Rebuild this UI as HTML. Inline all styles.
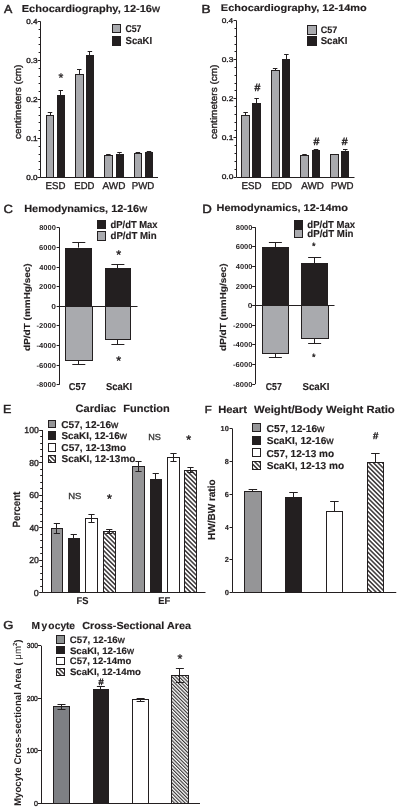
<!DOCTYPE html>
<html><head><meta charset="utf-8"><style>
html,body{margin:0;padding:0;background:#fff;width:400px;height:810px;overflow:hidden}
svg{display:block;font-family:"Liberation Sans", sans-serif;text-rendering:geometricPrecision;will-change:transform}
</style></head><body>
<svg width="400" height="810" viewBox="0 0 400 810">
<defs>
<pattern id="h4" patternUnits="userSpaceOnUse" width="3.2" height="4" patternTransform="rotate(-45)"><rect width="3.2" height="4" fill="#fff"/><line x1="0.8" y1="0" x2="0.8" y2="4" stroke="#231f20" stroke-width="1.35"/></pattern>
<pattern id="h3" patternUnits="userSpaceOnUse" width="2.5" height="3" patternTransform="rotate(-45)"><rect width="2.5" height="3" fill="#fff"/><line x1="0.6" y1="0" x2="0.6" y2="3" stroke="#231f20" stroke-width="1.05"/></pattern>
</defs>
<rect x="0" y="0" width="400" height="810" fill="#fff"/>
<text x="3.98" y="12.5" font-size="11.63" font-weight="normal" fill="#231f20" stroke="#231f20" stroke-width="0.45" textLength="8.3" lengthAdjust="spacingAndGlyphs">A</text>
<text x="21.76" y="12.25" font-size="10.17" font-weight="bold" fill="#231f20" stroke="#231f20" stroke-width="0.15" textLength="138.21" lengthAdjust="spacingAndGlyphs">Echocardiography, 12-16<tspan font-weight="normal" stroke-width="0.3">w</tspan></text>
<line x1="40.5" y1="21.5" x2="40.5" y2="177.5" stroke="#231f20" stroke-width="1"/>
<line x1="37.6" y1="177.5" x2="40.6" y2="177.5" stroke="#231f20" stroke-width="1"/>
<line x1="37.6" y1="138.5" x2="40.6" y2="138.5" stroke="#231f20" stroke-width="1"/>
<line x1="37.6" y1="99.5" x2="40.6" y2="99.5" stroke="#231f20" stroke-width="1"/>
<line x1="37.6" y1="60.5" x2="40.6" y2="60.5" stroke="#231f20" stroke-width="1"/>
<line x1="37.6" y1="21.5" x2="40.6" y2="21.5" stroke="#231f20" stroke-width="1"/>
<line x1="38.6" y1="169.5" x2="40.6" y2="169.5" stroke="#231f20" stroke-width="1"/>
<line x1="38.6" y1="161.5" x2="40.6" y2="161.5" stroke="#231f20" stroke-width="1"/>
<line x1="38.6" y1="154.5" x2="40.6" y2="154.5" stroke="#231f20" stroke-width="1"/>
<line x1="38.6" y1="146.5" x2="40.6" y2="146.5" stroke="#231f20" stroke-width="1"/>
<line x1="38.6" y1="130.5" x2="40.6" y2="130.5" stroke="#231f20" stroke-width="1"/>
<line x1="38.6" y1="122.5" x2="40.6" y2="122.5" stroke="#231f20" stroke-width="1"/>
<line x1="38.6" y1="115.5" x2="40.6" y2="115.5" stroke="#231f20" stroke-width="1"/>
<line x1="38.6" y1="107.5" x2="40.6" y2="107.5" stroke="#231f20" stroke-width="1"/>
<line x1="38.6" y1="91.5" x2="40.6" y2="91.5" stroke="#231f20" stroke-width="1"/>
<line x1="38.6" y1="83.5" x2="40.6" y2="83.5" stroke="#231f20" stroke-width="1"/>
<line x1="38.6" y1="76.5" x2="40.6" y2="76.5" stroke="#231f20" stroke-width="1"/>
<line x1="38.6" y1="68.5" x2="40.6" y2="68.5" stroke="#231f20" stroke-width="1"/>
<line x1="38.6" y1="52.5" x2="40.6" y2="52.5" stroke="#231f20" stroke-width="1"/>
<line x1="38.6" y1="44.5" x2="40.6" y2="44.5" stroke="#231f20" stroke-width="1"/>
<line x1="38.6" y1="37.5" x2="40.6" y2="37.5" stroke="#231f20" stroke-width="1"/>
<line x1="38.6" y1="29.5" x2="40.6" y2="29.5" stroke="#231f20" stroke-width="1"/>
<text x="26.18" y="180.0" font-size="7.27" font-weight="normal" fill="#231f20" stroke="#231f20" stroke-width="0.35" textLength="11.34" lengthAdjust="spacingAndGlyphs">0.0</text>
<text x="26.18" y="141.0" font-size="7.27" font-weight="normal" fill="#231f20" stroke="#231f20" stroke-width="0.35" textLength="11.42" lengthAdjust="spacingAndGlyphs">0.1</text>
<text x="26.18" y="102.0" font-size="7.27" font-weight="normal" fill="#231f20" stroke="#231f20" stroke-width="0.35" textLength="11.43" lengthAdjust="spacingAndGlyphs">0.2</text>
<text x="26.18" y="63.0" font-size="7.27" font-weight="normal" fill="#231f20" stroke="#231f20" stroke-width="0.35" textLength="11.38" lengthAdjust="spacingAndGlyphs">0.3</text>
<text x="26.18" y="24.0" font-size="7.27" font-weight="normal" fill="#231f20" stroke="#231f20" stroke-width="0.35" textLength="11.25" lengthAdjust="spacingAndGlyphs">0.4</text>
<line x1="40.6" y1="177.5" x2="158" y2="177.5" stroke="#231f20" stroke-width="1"/>
<line x1="50.5" y1="115.1" x2="50.5" y2="112.3" stroke="#231f20" stroke-width="1"/>
<line x1="47.75" y1="112.5" x2="52.25" y2="112.5" stroke="#231f20" stroke-width="1"/>
<rect x="46.5" y="115.5" width="7.0" height="62.0" fill="#a9aaae" stroke="#231f20" stroke-width="1"/>
<line x1="60.5" y1="95.4" x2="60.5" y2="90.3" stroke="#231f20" stroke-width="1"/>
<line x1="58.5" y1="90.5" x2="63.0" y2="90.5" stroke="#231f20" stroke-width="1"/>
<rect x="57.0" y="95.0" width="8.0" height="83.0" fill="#231f20"/>
<line x1="79.5" y1="74" x2="79.5" y2="69.2" stroke="#231f20" stroke-width="1"/>
<line x1="77.0" y1="69.5" x2="81.5" y2="69.5" stroke="#231f20" stroke-width="1"/>
<rect x="75.5" y="74.5" width="8.0" height="103.0" fill="#a9aaae" stroke="#231f20" stroke-width="1"/>
<line x1="89.5" y1="55.3" x2="89.5" y2="51.2" stroke="#231f20" stroke-width="1"/>
<line x1="87.625" y1="51.5" x2="92.125" y2="51.5" stroke="#231f20" stroke-width="1"/>
<rect x="86.0" y="55.0" width="8.0" height="123.0" fill="#231f20"/>
<line x1="108.5" y1="155" x2="108.5" y2="154.0" stroke="#231f20" stroke-width="1"/>
<line x1="106.125" y1="154.5" x2="110.625" y2="154.5" stroke="#231f20" stroke-width="1"/>
<rect x="104.5" y="155.5" width="8.0" height="22.0" fill="#a9aaae" stroke="#231f20" stroke-width="1"/>
<line x1="119.5" y1="153.75" x2="119.5" y2="152" stroke="#231f20" stroke-width="1"/>
<line x1="117.25" y1="152.5" x2="121.75" y2="152.5" stroke="#231f20" stroke-width="1"/>
<rect x="116.0" y="154.0" width="8.0" height="24.0" fill="#231f20"/>
<line x1="137.5" y1="153.5" x2="137.5" y2="152.6" stroke="#231f20" stroke-width="1"/>
<line x1="135.625" y1="152.5" x2="140.125" y2="152.5" stroke="#231f20" stroke-width="1"/>
<rect x="134.5" y="153.5" width="7.0" height="24.0" fill="#a9aaae" stroke="#231f20" stroke-width="1"/>
<line x1="149.5" y1="152.5" x2="149.5" y2="151" stroke="#231f20" stroke-width="1"/>
<line x1="146.75" y1="151.5" x2="151.25" y2="151.5" stroke="#231f20" stroke-width="1"/>
<rect x="145.0" y="152.0" width="8.0" height="26.0" fill="#231f20"/>
<text x="58.57" y="82.41" font-size="12.5" font-weight="normal" fill="#231f20" stroke="#231f20" stroke-width="0.3">*</text>
<rect x="112.5" y="24.5" width="8.0" height="8.0" fill="#a9aaae" stroke="#231f20" stroke-width="1"/>
<rect x="112.0" y="36.0" width="9.0" height="10.0" fill="#231f20"/>
<text x="125.44" y="32.4" font-size="9.88" font-weight="bold" fill="#231f20" stroke="#231f20" stroke-width="0.15" textLength="15.94" lengthAdjust="spacingAndGlyphs">C57</text>
<text x="125.52" y="44.4" font-size="10.17" font-weight="bold" fill="#231f20" stroke="#231f20" stroke-width="0.15" textLength="26.62" lengthAdjust="spacingAndGlyphs">ScaKI</text>
<text x="45.51" y="188.95" font-size="9.88" font-weight="normal" fill="#231f20" stroke="#231f20" stroke-width="0.35" textLength="19.86" lengthAdjust="spacingAndGlyphs">ESD</text>
<text x="74.32" y="188.95" font-size="9.88" font-weight="normal" fill="#231f20" stroke="#231f20" stroke-width="0.35" textLength="20.04" lengthAdjust="spacingAndGlyphs">EDD</text>
<text x="102.48" y="188.95" font-size="9.88" font-weight="normal" fill="#231f20" stroke="#231f20" stroke-width="0.35" textLength="22.9" lengthAdjust="spacingAndGlyphs">AWD</text>
<text x="131.81" y="188.95" font-size="9.88" font-weight="normal" fill="#231f20" stroke="#231f20" stroke-width="0.35" textLength="22.56" lengthAdjust="spacingAndGlyphs">PWD</text>
<text transform="translate(21,138.6) rotate(-90)" x="-0.42" y="0" font-size="9.45" font-weight="normal" fill="#231f20" stroke="#231f20" stroke-width="0.35" textLength="74.44" lengthAdjust="spacingAndGlyphs">centimeters (cm)</text>
<text x="201.63" y="12.5" font-size="11.63" font-weight="normal" fill="#231f20" stroke="#231f20" stroke-width="0.45" textLength="9.09" lengthAdjust="spacingAndGlyphs">B</text>
<text x="220.87" y="11" font-size="9.59" font-weight="bold" fill="#231f20" stroke="#231f20" stroke-width="0.15" textLength="145.96" lengthAdjust="spacingAndGlyphs">Echocardiography, 12-14mo</text>
<line x1="236.5" y1="20.599999999999994" x2="236.5" y2="177" stroke="#231f20" stroke-width="1"/>
<line x1="233.5" y1="177.5" x2="236.5" y2="177.5" stroke="#231f20" stroke-width="1"/>
<line x1="233.5" y1="137.5" x2="236.5" y2="137.5" stroke="#231f20" stroke-width="1"/>
<line x1="233.5" y1="98.5" x2="236.5" y2="98.5" stroke="#231f20" stroke-width="1"/>
<line x1="233.5" y1="59.5" x2="236.5" y2="59.5" stroke="#231f20" stroke-width="1"/>
<line x1="233.5" y1="20.5" x2="236.5" y2="20.5" stroke="#231f20" stroke-width="1"/>
<line x1="234.5" y1="169.5" x2="236.5" y2="169.5" stroke="#231f20" stroke-width="1"/>
<line x1="234.5" y1="161.5" x2="236.5" y2="161.5" stroke="#231f20" stroke-width="1"/>
<line x1="234.5" y1="153.5" x2="236.5" y2="153.5" stroke="#231f20" stroke-width="1"/>
<line x1="234.5" y1="145.5" x2="236.5" y2="145.5" stroke="#231f20" stroke-width="1"/>
<line x1="234.5" y1="130.5" x2="236.5" y2="130.5" stroke="#231f20" stroke-width="1"/>
<line x1="234.5" y1="122.5" x2="236.5" y2="122.5" stroke="#231f20" stroke-width="1"/>
<line x1="234.5" y1="114.5" x2="236.5" y2="114.5" stroke="#231f20" stroke-width="1"/>
<line x1="234.5" y1="106.5" x2="236.5" y2="106.5" stroke="#231f20" stroke-width="1"/>
<line x1="234.5" y1="90.5" x2="236.5" y2="90.5" stroke="#231f20" stroke-width="1"/>
<line x1="234.5" y1="83.5" x2="236.5" y2="83.5" stroke="#231f20" stroke-width="1"/>
<line x1="234.5" y1="75.5" x2="236.5" y2="75.5" stroke="#231f20" stroke-width="1"/>
<line x1="234.5" y1="67.5" x2="236.5" y2="67.5" stroke="#231f20" stroke-width="1"/>
<line x1="234.5" y1="51.5" x2="236.5" y2="51.5" stroke="#231f20" stroke-width="1"/>
<line x1="234.5" y1="44.5" x2="236.5" y2="44.5" stroke="#231f20" stroke-width="1"/>
<line x1="234.5" y1="36.5" x2="236.5" y2="36.5" stroke="#231f20" stroke-width="1"/>
<line x1="234.5" y1="28.5" x2="236.5" y2="28.5" stroke="#231f20" stroke-width="1"/>
<text x="221.67" y="179.4" font-size="6.98" font-weight="normal" fill="#231f20" stroke="#231f20" stroke-width="0.35" textLength="11.66" lengthAdjust="spacingAndGlyphs">0.0</text>
<text x="221.67" y="140.3" font-size="6.98" font-weight="normal" fill="#231f20" stroke="#231f20" stroke-width="0.35" textLength="11.74" lengthAdjust="spacingAndGlyphs">0.1</text>
<text x="221.67" y="101.2" font-size="6.98" font-weight="normal" fill="#231f20" stroke="#231f20" stroke-width="0.35" textLength="11.75" lengthAdjust="spacingAndGlyphs">0.2</text>
<text x="221.67" y="62.1" font-size="6.98" font-weight="normal" fill="#231f20" stroke="#231f20" stroke-width="0.35" textLength="11.7" lengthAdjust="spacingAndGlyphs">0.3</text>
<text x="221.68" y="23.0" font-size="6.98" font-weight="normal" fill="#231f20" stroke="#231f20" stroke-width="0.35" textLength="11.57" lengthAdjust="spacingAndGlyphs">0.4</text>
<line x1="236.5" y1="177.5" x2="354.5" y2="177.5" stroke="#231f20" stroke-width="1"/>
<line x1="245.5" y1="115.5" x2="245.5" y2="112.3" stroke="#231f20" stroke-width="1"/>
<line x1="243.375" y1="112.5" x2="247.875" y2="112.5" stroke="#231f20" stroke-width="1"/>
<rect x="241.5" y="115.5" width="8.0" height="62.0" fill="#a9aaae" stroke="#231f20" stroke-width="1"/>
<line x1="256.5" y1="103" x2="256.5" y2="98.75" stroke="#231f20" stroke-width="1"/>
<line x1="254.375" y1="98.5" x2="258.875" y2="98.5" stroke="#231f20" stroke-width="1"/>
<rect x="252.0" y="103.0" width="9.0" height="74.0" fill="#231f20"/>
<line x1="275.5" y1="70" x2="275.5" y2="68.25" stroke="#231f20" stroke-width="1"/>
<line x1="272.875" y1="68.5" x2="277.375" y2="68.5" stroke="#231f20" stroke-width="1"/>
<rect x="271.5" y="70.5" width="8.0" height="107.0" fill="#a9aaae" stroke="#231f20" stroke-width="1"/>
<line x1="286.5" y1="59" x2="286.5" y2="54.25" stroke="#231f20" stroke-width="1"/>
<line x1="284.125" y1="54.5" x2="288.625" y2="54.5" stroke="#231f20" stroke-width="1"/>
<rect x="282.0" y="59.0" width="8.0" height="118.0" fill="#231f20"/>
<line x1="304.5" y1="155" x2="304.5" y2="154.2" stroke="#231f20" stroke-width="1"/>
<line x1="302.25" y1="154.5" x2="306.75" y2="154.5" stroke="#231f20" stroke-width="1"/>
<rect x="300.5" y="155.5" width="8.0" height="22.0" fill="#a9aaae" stroke="#231f20" stroke-width="1"/>
<line x1="316.5" y1="150.5" x2="316.5" y2="149.6" stroke="#231f20" stroke-width="1"/>
<line x1="313.75" y1="149.5" x2="318.25" y2="149.5" stroke="#231f20" stroke-width="1"/>
<rect x="312.0" y="150.0" width="8.0" height="27.0" fill="#231f20"/>
<line x1="334.5" y1="154.75" x2="334.5" y2="154" stroke="#231f20" stroke-width="1"/>
<line x1="331.75" y1="154.5" x2="336.25" y2="154.5" stroke="#231f20" stroke-width="1"/>
<rect x="330.5" y="154.5" width="8.0" height="23.0" fill="#a9aaae" stroke="#231f20" stroke-width="1"/>
<line x1="345.5" y1="150.75" x2="345.5" y2="149.6" stroke="#231f20" stroke-width="1"/>
<line x1="343.0" y1="149.5" x2="347.5" y2="149.5" stroke="#231f20" stroke-width="1"/>
<rect x="341.0" y="151.0" width="8.0" height="26.0" fill="#231f20"/>
<text x="254.49" y="91.49" font-size="10.5" font-weight="normal" fill="#231f20" stroke="#231f20" stroke-width="0.45">#</text>
<text x="313.59" y="145.09" font-size="10.5" font-weight="normal" fill="#231f20" stroke="#231f20" stroke-width="0.45">#</text>
<text x="341.84" y="145.09" font-size="10.5" font-weight="normal" fill="#231f20" stroke="#231f20" stroke-width="0.45">#</text>
<rect x="307.5" y="25.5" width="9.0" height="9.0" fill="#a9aaae" stroke="#231f20" stroke-width="1"/>
<rect x="307.0" y="36.0" width="10.0" height="10.0" fill="#231f20"/>
<text x="320.63" y="33.4" font-size="9.45" font-weight="bold" fill="#231f20" stroke="#231f20" stroke-width="0.15" textLength="16.57" lengthAdjust="spacingAndGlyphs">C57</text>
<text x="320.72" y="44.1" font-size="10.03" font-weight="bold" fill="#231f20" stroke="#231f20" stroke-width="0.15" textLength="26.62" lengthAdjust="spacingAndGlyphs">ScaKI</text>
<text x="241.5" y="188.95" font-size="9.88" font-weight="normal" fill="#231f20" stroke="#231f20" stroke-width="0.35" textLength="20.07" lengthAdjust="spacingAndGlyphs">ESD</text>
<text x="271.51" y="188.95" font-size="9.88" font-weight="normal" fill="#231f20" stroke="#231f20" stroke-width="0.35" textLength="20.36" lengthAdjust="spacingAndGlyphs">EDD</text>
<text x="301.28" y="188.95" font-size="9.88" font-weight="normal" fill="#231f20" stroke="#231f20" stroke-width="0.35" textLength="22.69" lengthAdjust="spacingAndGlyphs">AWD</text>
<text x="331.01" y="188.95" font-size="9.88" font-weight="normal" fill="#231f20" stroke="#231f20" stroke-width="0.35" textLength="22.56" lengthAdjust="spacingAndGlyphs">PWD</text>
<text transform="translate(216.6,138.6) rotate(-90)" x="-0.42" y="0" font-size="9.45" font-weight="normal" fill="#231f20" stroke="#231f20" stroke-width="0.35" textLength="74.44" lengthAdjust="spacingAndGlyphs">centimeters (cm)</text>
<text x="3.43" y="213.4" font-size="11.92" font-weight="normal" fill="#231f20" stroke="#231f20" stroke-width="0.45" textLength="9.47" lengthAdjust="spacingAndGlyphs">C</text>
<text x="24.17" y="212.25" font-size="10.32" font-weight="bold" fill="#231f20" stroke="#231f20" stroke-width="0.15" textLength="122.91" lengthAdjust="spacingAndGlyphs">Hemodynamics, 12-16<tspan font-weight="normal" stroke-width="0.3">w</tspan></text>
<line x1="59.5" y1="227.79999999999998" x2="59.5" y2="384.6" stroke="#231f20" stroke-width="1"/>
<line x1="56.6" y1="384.5" x2="59.6" y2="384.5" stroke="#231f20" stroke-width="1"/>
<line x1="56.6" y1="365.5" x2="59.6" y2="365.5" stroke="#231f20" stroke-width="1"/>
<line x1="56.6" y1="345.5" x2="59.6" y2="345.5" stroke="#231f20" stroke-width="1"/>
<line x1="56.6" y1="325.5" x2="59.6" y2="325.5" stroke="#231f20" stroke-width="1"/>
<line x1="56.6" y1="306.5" x2="59.6" y2="306.5" stroke="#231f20" stroke-width="1"/>
<line x1="56.6" y1="286.5" x2="59.6" y2="286.5" stroke="#231f20" stroke-width="1"/>
<line x1="56.6" y1="267.5" x2="59.6" y2="267.5" stroke="#231f20" stroke-width="1"/>
<line x1="56.6" y1="247.5" x2="59.6" y2="247.5" stroke="#231f20" stroke-width="1"/>
<line x1="56.6" y1="227.5" x2="59.6" y2="227.5" stroke="#231f20" stroke-width="1"/>
<text x="36.5" y="387.1" font-size="7.12" font-weight="bold" fill="#231f20" textLength="19.41" lengthAdjust="spacingAndGlyphs">-8000</text>
<text x="36.5" y="367.5" font-size="7.12" font-weight="bold" fill="#231f20" textLength="19.41" lengthAdjust="spacingAndGlyphs">-6000</text>
<text x="36.5" y="347.9" font-size="7.12" font-weight="bold" fill="#231f20" textLength="19.41" lengthAdjust="spacingAndGlyphs">-4000</text>
<text x="36.5" y="328.3" font-size="7.12" font-weight="bold" fill="#231f20" textLength="19.41" lengthAdjust="spacingAndGlyphs">-2000</text>
<text x="51.21" y="308.7" font-size="7.12" font-weight="bold" fill="#231f20" textLength="4.74" lengthAdjust="spacingAndGlyphs">0</text>
<text x="39.14" y="289.1" font-size="7.12" font-weight="bold" fill="#231f20" textLength="16.78" lengthAdjust="spacingAndGlyphs">2000</text>
<text x="39.29" y="269.5" font-size="7.12" font-weight="bold" fill="#231f20" textLength="16.62" lengthAdjust="spacingAndGlyphs">4000</text>
<text x="39.12" y="249.9" font-size="7.12" font-weight="bold" fill="#231f20" textLength="16.79" lengthAdjust="spacingAndGlyphs">6000</text>
<text x="39.16" y="230.3" font-size="7.12" font-weight="bold" fill="#231f20" textLength="16.75" lengthAdjust="spacingAndGlyphs">8000</text>
<line x1="78.5" y1="247.6" x2="78.5" y2="242.5" stroke="#231f20" stroke-width="1"/>
<line x1="72.30000000000001" y1="242.5" x2="85.30000000000001" y2="242.5" stroke="#231f20" stroke-width="1"/>
<line x1="78.5" y1="360" x2="78.5" y2="364.4" stroke="#231f20" stroke-width="1"/>
<line x1="72.30000000000001" y1="364.5" x2="85.30000000000001" y2="364.5" stroke="#231f20" stroke-width="1"/>
<rect x="65.0" y="248.0" width="27.0" height="58.0" fill="#231f20"/>
<rect x="65.5" y="306.5" width="27.0" height="54.0" fill="#a9aaae" stroke="#231f20" stroke-width="1"/>
<line x1="117.5" y1="268.25" x2="117.5" y2="264.25" stroke="#231f20" stroke-width="1"/>
<line x1="111.375" y1="264.5" x2="124.375" y2="264.5" stroke="#231f20" stroke-width="1"/>
<line x1="117.5" y1="339.25" x2="117.5" y2="344.5" stroke="#231f20" stroke-width="1"/>
<line x1="111.375" y1="344.5" x2="124.375" y2="344.5" stroke="#231f20" stroke-width="1"/>
<rect x="105.0" y="268.0" width="26.0" height="38.0" fill="#231f20"/>
<rect x="105.5" y="306.5" width="25.0" height="33.0" fill="#a9aaae" stroke="#231f20" stroke-width="1"/>
<line x1="59.6" y1="306.5" x2="137.5" y2="306.5" stroke="#231f20" stroke-width="1"/>
<text x="116.32" y="259.21" font-size="12.5" font-weight="normal" fill="#231f20" stroke="#231f20" stroke-width="0.4">*</text>
<text x="116.32" y="364.71" font-size="12.5" font-weight="normal" fill="#231f20" stroke="#231f20" stroke-width="0.4">*</text>
<rect x="97.0" y="220.0" width="9.0" height="9.0" fill="#231f20"/>
<rect x="97.5" y="231.5" width="8.0" height="9.0" fill="#a9aaae" stroke="#231f20" stroke-width="1"/>
<text x="110.51" y="228" font-size="10.17" font-weight="bold" fill="#231f20" stroke="#231f20" stroke-width="0.15" textLength="47.07" lengthAdjust="spacingAndGlyphs">dP/dT Max</text>
<text x="110.5" y="238.5" font-size="10.17" font-weight="bold" fill="#231f20" stroke="#231f20" stroke-width="0.15" textLength="46.19" lengthAdjust="spacingAndGlyphs">dP/dT Min</text>
<text x="68.82" y="389.5" font-size="10.03" font-weight="bold" fill="#231f20" stroke="#231f20" stroke-width="0.15" textLength="16.99" lengthAdjust="spacingAndGlyphs">C57</text>
<text x="105.93" y="389.5" font-size="10.03" font-weight="bold" fill="#231f20" stroke="#231f20" stroke-width="0.15" textLength="26.1" lengthAdjust="spacingAndGlyphs">ScaKI</text>
<text transform="translate(30.2,350.5) rotate(-90)" x="-0.41" y="0" font-size="8.72" font-weight="bold" fill="#231f20" stroke="#231f20" stroke-width="0.15" textLength="87.61" lengthAdjust="spacingAndGlyphs">dP/dT (mmHg/sec)</text>
<text x="202.31" y="213" font-size="11.92" font-weight="normal" fill="#231f20" stroke="#231f20" stroke-width="0.45" textLength="9.58" lengthAdjust="spacingAndGlyphs">D</text>
<text x="216.57" y="211.2" font-size="9.88" font-weight="bold" fill="#231f20" stroke="#231f20" stroke-width="0.15" textLength="131.46" lengthAdjust="spacingAndGlyphs">Hemodynamics, 12-14mo</text>
<line x1="255.5" y1="227.20000000000002" x2="255.5" y2="384.0" stroke="#231f20" stroke-width="1"/>
<line x1="252.2" y1="384.5" x2="255.2" y2="384.5" stroke="#231f20" stroke-width="1"/>
<line x1="252.2" y1="364.5" x2="255.2" y2="364.5" stroke="#231f20" stroke-width="1"/>
<line x1="252.2" y1="344.5" x2="255.2" y2="344.5" stroke="#231f20" stroke-width="1"/>
<line x1="252.2" y1="325.5" x2="255.2" y2="325.5" stroke="#231f20" stroke-width="1"/>
<line x1="252.2" y1="305.5" x2="255.2" y2="305.5" stroke="#231f20" stroke-width="1"/>
<line x1="252.2" y1="286.5" x2="255.2" y2="286.5" stroke="#231f20" stroke-width="1"/>
<line x1="252.2" y1="266.5" x2="255.2" y2="266.5" stroke="#231f20" stroke-width="1"/>
<line x1="252.2" y1="246.5" x2="255.2" y2="246.5" stroke="#231f20" stroke-width="1"/>
<line x1="252.2" y1="227.5" x2="255.2" y2="227.5" stroke="#231f20" stroke-width="1"/>
<text x="233.1" y="386.5" font-size="7.12" font-weight="bold" fill="#231f20" textLength="19.41" lengthAdjust="spacingAndGlyphs">-8000</text>
<text x="233.1" y="366.9" font-size="7.12" font-weight="bold" fill="#231f20" textLength="19.41" lengthAdjust="spacingAndGlyphs">-6000</text>
<text x="233.1" y="347.3" font-size="7.12" font-weight="bold" fill="#231f20" textLength="19.41" lengthAdjust="spacingAndGlyphs">-4000</text>
<text x="233.1" y="327.7" font-size="7.12" font-weight="bold" fill="#231f20" textLength="19.41" lengthAdjust="spacingAndGlyphs">-2000</text>
<text x="247.81" y="308.1" font-size="7.12" font-weight="bold" fill="#231f20" textLength="4.74" lengthAdjust="spacingAndGlyphs">0</text>
<text x="235.74" y="288.5" font-size="7.12" font-weight="bold" fill="#231f20" textLength="16.78" lengthAdjust="spacingAndGlyphs">2000</text>
<text x="235.89" y="268.9" font-size="7.12" font-weight="bold" fill="#231f20" textLength="16.62" lengthAdjust="spacingAndGlyphs">4000</text>
<text x="235.72" y="249.3" font-size="7.12" font-weight="bold" fill="#231f20" textLength="16.79" lengthAdjust="spacingAndGlyphs">6000</text>
<text x="235.76" y="229.7" font-size="7.12" font-weight="bold" fill="#231f20" textLength="16.75" lengthAdjust="spacingAndGlyphs">8000</text>
<line x1="275.5" y1="247" x2="275.5" y2="242.5" stroke="#231f20" stroke-width="1"/>
<line x1="268.875" y1="242.5" x2="281.875" y2="242.5" stroke="#231f20" stroke-width="1"/>
<line x1="275.5" y1="353.25" x2="275.5" y2="357" stroke="#231f20" stroke-width="1"/>
<line x1="268.875" y1="357.5" x2="281.875" y2="357.5" stroke="#231f20" stroke-width="1"/>
<rect x="262.0" y="247.0" width="27.0" height="59.0" fill="#231f20"/>
<rect x="262.5" y="305.5" width="26.0" height="48.0" fill="#a9aaae" stroke="#231f20" stroke-width="1"/>
<line x1="314.5" y1="263" x2="314.5" y2="257" stroke="#231f20" stroke-width="1"/>
<line x1="308.125" y1="257.5" x2="321.125" y2="257.5" stroke="#231f20" stroke-width="1"/>
<line x1="314.5" y1="338" x2="314.5" y2="343" stroke="#231f20" stroke-width="1"/>
<line x1="308.125" y1="343.5" x2="321.125" y2="343.5" stroke="#231f20" stroke-width="1"/>
<rect x="301.0" y="263.0" width="27.0" height="43.0" fill="#231f20"/>
<rect x="301.5" y="305.5" width="27.0" height="33.0" fill="#a9aaae" stroke="#231f20" stroke-width="1"/>
<line x1="255.2" y1="305.5" x2="334.5" y2="305.5" stroke="#231f20" stroke-width="1"/>
<text x="312.0" y="249.01" font-size="9" font-weight="normal" fill="#231f20" stroke="#231f20" stroke-width="0.4">*</text>
<text x="312.0" y="360.41" font-size="9" font-weight="normal" fill="#231f20" stroke="#231f20" stroke-width="0.4">*</text>
<rect x="294.0" y="220.0" width="9.0" height="10.0" fill="#231f20"/>
<rect x="294.5" y="229.5" width="8.0" height="8.0" fill="#a9aaae" stroke="#231f20" stroke-width="1"/>
<text x="307.31" y="228.2" font-size="10.17" font-weight="bold" fill="#231f20" stroke="#231f20" stroke-width="0.15" textLength="47.77" lengthAdjust="spacingAndGlyphs">dP/dT Max</text>
<text x="307.3" y="237.3" font-size="10.17" font-weight="bold" fill="#231f20" stroke="#231f20" stroke-width="0.15" textLength="46.19" lengthAdjust="spacingAndGlyphs">dP/dT Min</text>
<text x="265.84" y="389.5" font-size="10.03" font-weight="bold" fill="#231f20" stroke="#231f20" stroke-width="0.15" textLength="15.94" lengthAdjust="spacingAndGlyphs">C57</text>
<text x="302.52" y="389.5" font-size="10.03" font-weight="bold" fill="#231f20" stroke="#231f20" stroke-width="0.15" textLength="26.93" lengthAdjust="spacingAndGlyphs">ScaKI</text>
<text transform="translate(226,350.5) rotate(-90)" x="-0.41" y="0" font-size="8.72" font-weight="bold" fill="#231f20" stroke="#231f20" stroke-width="0.15" textLength="87.61" lengthAdjust="spacingAndGlyphs">dP/dT (mmHg/sec)</text>
<text x="3.07" y="412.6" font-size="11.63" font-weight="normal" fill="#231f20" stroke="#231f20" stroke-width="0.45" textLength="8.37" lengthAdjust="spacingAndGlyphs">E</text>
<text x="75.55" y="411.6" font-size="10.61" font-weight="bold" fill="#231f20" stroke="#231f20" stroke-width="0.15" textLength="40.48" lengthAdjust="spacingAndGlyphs">Cardiac</text>
<text x="123.26" y="411.6" font-size="10.61" font-weight="bold" fill="#231f20" stroke="#231f20" stroke-width="0.15" textLength="46.42" lengthAdjust="spacingAndGlyphs">Function</text>
<line x1="42.5" y1="430.0" x2="42.5" y2="592.5" stroke="#231f20" stroke-width="1"/>
<line x1="39.2" y1="592.5" x2="42.2" y2="592.5" stroke="#231f20" stroke-width="1"/>
<line x1="39.2" y1="560.5" x2="42.2" y2="560.5" stroke="#231f20" stroke-width="1"/>
<line x1="39.2" y1="527.5" x2="42.2" y2="527.5" stroke="#231f20" stroke-width="1"/>
<line x1="39.2" y1="495.5" x2="42.2" y2="495.5" stroke="#231f20" stroke-width="1"/>
<line x1="39.2" y1="462.5" x2="42.2" y2="462.5" stroke="#231f20" stroke-width="1"/>
<line x1="39.2" y1="430.5" x2="42.2" y2="430.5" stroke="#231f20" stroke-width="1"/>
<line x1="40.2" y1="586.5" x2="42.2" y2="586.5" stroke="#231f20" stroke-width="1"/>
<line x1="40.2" y1="579.5" x2="42.2" y2="579.5" stroke="#231f20" stroke-width="1"/>
<line x1="40.2" y1="573.5" x2="42.2" y2="573.5" stroke="#231f20" stroke-width="1"/>
<line x1="40.2" y1="566.5" x2="42.2" y2="566.5" stroke="#231f20" stroke-width="1"/>
<line x1="40.2" y1="553.5" x2="42.2" y2="553.5" stroke="#231f20" stroke-width="1"/>
<line x1="40.2" y1="547.5" x2="42.2" y2="547.5" stroke="#231f20" stroke-width="1"/>
<line x1="40.2" y1="540.5" x2="42.2" y2="540.5" stroke="#231f20" stroke-width="1"/>
<line x1="40.2" y1="534.5" x2="42.2" y2="534.5" stroke="#231f20" stroke-width="1"/>
<line x1="40.2" y1="521.5" x2="42.2" y2="521.5" stroke="#231f20" stroke-width="1"/>
<line x1="40.2" y1="514.5" x2="42.2" y2="514.5" stroke="#231f20" stroke-width="1"/>
<line x1="40.2" y1="508.5" x2="42.2" y2="508.5" stroke="#231f20" stroke-width="1"/>
<line x1="40.2" y1="501.5" x2="42.2" y2="501.5" stroke="#231f20" stroke-width="1"/>
<line x1="40.2" y1="488.5" x2="42.2" y2="488.5" stroke="#231f20" stroke-width="1"/>
<line x1="40.2" y1="482.5" x2="42.2" y2="482.5" stroke="#231f20" stroke-width="1"/>
<line x1="40.2" y1="475.5" x2="42.2" y2="475.5" stroke="#231f20" stroke-width="1"/>
<line x1="40.2" y1="469.5" x2="42.2" y2="469.5" stroke="#231f20" stroke-width="1"/>
<line x1="40.2" y1="456.5" x2="42.2" y2="456.5" stroke="#231f20" stroke-width="1"/>
<line x1="40.2" y1="449.5" x2="42.2" y2="449.5" stroke="#231f20" stroke-width="1"/>
<line x1="40.2" y1="443.5" x2="42.2" y2="443.5" stroke="#231f20" stroke-width="1"/>
<line x1="40.2" y1="436.5" x2="42.2" y2="436.5" stroke="#231f20" stroke-width="1"/>
<text x="33.85" y="595.5" font-size="8.72" font-weight="normal" fill="#231f20" stroke="#231f20" stroke-width="0.35" textLength="5.0" lengthAdjust="spacingAndGlyphs">0</text>
<text x="29.17" y="563.0" font-size="8.72" font-weight="normal" fill="#231f20" stroke="#231f20" stroke-width="0.35" textLength="9.68" lengthAdjust="spacingAndGlyphs">20</text>
<text x="29.41" y="530.5" font-size="8.72" font-weight="normal" fill="#231f20" stroke="#231f20" stroke-width="0.35" textLength="9.43" lengthAdjust="spacingAndGlyphs">40</text>
<text x="29.16" y="498.0" font-size="8.72" font-weight="normal" fill="#231f20" stroke="#231f20" stroke-width="0.35" textLength="9.69" lengthAdjust="spacingAndGlyphs">60</text>
<text x="29.23" y="465.5" font-size="8.72" font-weight="normal" fill="#231f20" stroke="#231f20" stroke-width="0.35" textLength="9.61" lengthAdjust="spacingAndGlyphs">80</text>
<text x="24.34" y="433.0" font-size="8.72" font-weight="normal" fill="#231f20" stroke="#231f20" stroke-width="0.35" textLength="14.5" lengthAdjust="spacingAndGlyphs">100</text>
<line x1="42.2" y1="592.5" x2="205.5" y2="592.5" stroke="#231f20" stroke-width="1"/>
<rect x="51.5" y="528.5" width="11.0" height="64.0" fill="#959597" stroke="#231f20" stroke-width="1"/>
<line x1="56.5" y1="528.25" x2="56.5" y2="523.25" stroke="#231f20" stroke-width="1"/>
<line x1="53.775" y1="523.5" x2="59.975" y2="523.5" stroke="#231f20" stroke-width="1"/>
<line x1="56.5" y1="528.25" x2="56.5" y2="533" stroke="#231f20" stroke-width="1"/>
<line x1="53.775" y1="533.5" x2="59.975" y2="533.5" stroke="#231f20" stroke-width="1"/>
<rect x="68.0" y="538.0" width="12.0" height="54.0" fill="#231f20"/>
<line x1="73.5" y1="538.25" x2="73.5" y2="534.25" stroke="#231f20" stroke-width="1"/>
<line x1="70.65" y1="534.5" x2="76.85" y2="534.5" stroke="#231f20" stroke-width="1"/>
<rect x="85.5" y="518.5" width="12.0" height="74.0" fill="#fff" stroke="#231f20" stroke-width="1"/>
<line x1="91.5" y1="518.75" x2="91.5" y2="514.25" stroke="#231f20" stroke-width="1"/>
<line x1="88.4" y1="514.5" x2="94.6" y2="514.5" stroke="#231f20" stroke-width="1"/>
<line x1="91.5" y1="518.75" x2="91.5" y2="522.5" stroke="#231f20" stroke-width="1"/>
<line x1="88.4" y1="522.5" x2="94.6" y2="522.5" stroke="#231f20" stroke-width="1"/>
<rect x="103.5" y="531.5" width="12.0" height="61.0" fill="url(#h4)" stroke="#231f20" stroke-width="1"/>
<line x1="109.5" y1="531.25" x2="109.5" y2="529.25" stroke="#231f20" stroke-width="1"/>
<line x1="106.15" y1="529.5" x2="112.35" y2="529.5" stroke="#231f20" stroke-width="1"/>
<line x1="109.5" y1="531.25" x2="109.5" y2="533.3" stroke="#231f20" stroke-width="1"/>
<line x1="106.15" y1="533.5" x2="112.35" y2="533.5" stroke="#231f20" stroke-width="1"/>
<rect x="132.5" y="466.5" width="12.0" height="126.0" fill="#959597" stroke="#231f20" stroke-width="1"/>
<line x1="138.5" y1="466.25" x2="138.5" y2="461.25" stroke="#231f20" stroke-width="1"/>
<line x1="135.4" y1="461.5" x2="141.6" y2="461.5" stroke="#231f20" stroke-width="1"/>
<line x1="138.5" y1="466.25" x2="138.5" y2="471.25" stroke="#231f20" stroke-width="1"/>
<line x1="135.4" y1="471.5" x2="141.6" y2="471.5" stroke="#231f20" stroke-width="1"/>
<rect x="150.0" y="479.0" width="12.0" height="113.0" fill="#231f20"/>
<line x1="155.5" y1="479.25" x2="155.5" y2="473.75" stroke="#231f20" stroke-width="1"/>
<line x1="152.65" y1="473.5" x2="158.85" y2="473.5" stroke="#231f20" stroke-width="1"/>
<rect x="167.5" y="457.5" width="12.0" height="135.0" fill="#fff" stroke="#231f20" stroke-width="1"/>
<line x1="173.5" y1="457.5" x2="173.5" y2="453.25" stroke="#231f20" stroke-width="1"/>
<line x1="170.4" y1="453.5" x2="176.6" y2="453.5" stroke="#231f20" stroke-width="1"/>
<line x1="173.5" y1="457.5" x2="173.5" y2="461.25" stroke="#231f20" stroke-width="1"/>
<line x1="170.4" y1="461.5" x2="176.6" y2="461.5" stroke="#231f20" stroke-width="1"/>
<rect x="184.5" y="470.5" width="12.0" height="122.0" fill="url(#h4)" stroke="#231f20" stroke-width="1"/>
<line x1="190.5" y1="470" x2="190.5" y2="467.5" stroke="#231f20" stroke-width="1"/>
<line x1="187.4" y1="467.5" x2="193.6" y2="467.5" stroke="#231f20" stroke-width="1"/>
<line x1="190.5" y1="470" x2="190.5" y2="472.5" stroke="#231f20" stroke-width="1"/>
<line x1="187.4" y1="472.5" x2="193.6" y2="472.5" stroke="#231f20" stroke-width="1"/>
<text x="68.22" y="498.6" font-size="8.72" font-weight="normal" fill="#3a3a3a" stroke="#3a3a3a" stroke-width="0.35" textLength="13.22" lengthAdjust="spacingAndGlyphs">NS</text>
<text x="148.25" y="439.8" font-size="8.72" font-weight="normal" fill="#3a3a3a" stroke="#3a3a3a" stroke-width="0.35" textLength="12.67" lengthAdjust="spacingAndGlyphs">NS</text>
<text x="106.97" y="502.71" font-size="12.5" font-weight="normal" fill="#231f20" stroke="#231f20" stroke-width="0.45">*</text>
<text x="186.32" y="444.31" font-size="12.5" font-weight="normal" fill="#231f20" stroke="#231f20" stroke-width="0.45">*</text>
<text x="76.58" y="604.1" font-size="9.88" font-weight="bold" fill="#231f20" stroke="#231f20" stroke-width="0.15" textLength="11.88" lengthAdjust="spacingAndGlyphs">FS</text>
<text x="158.27" y="604.1" font-size="9.88" font-weight="bold" fill="#231f20" stroke="#231f20" stroke-width="0.15" textLength="12.08" lengthAdjust="spacingAndGlyphs">EF</text>
<rect x="48.5" y="420.5" width="7.0" height="7.0" fill="#959597" stroke="#231f20" stroke-width="1"/>
<rect x="48.0" y="431.0" width="8.0" height="9.0" fill="#231f20"/>
<rect x="48.5" y="443.5" width="7.0" height="8.0" fill="#fff" stroke="#231f20" stroke-width="1"/>
<rect x="48.5" y="455.5" width="7.0" height="7.0" fill="url(#h4)" stroke="#231f20" stroke-width="1"/>
<text x="61.39" y="427.75" font-size="9.88" font-weight="bold" fill="#231f20" stroke="#231f20" stroke-width="0.15" textLength="56.83" lengthAdjust="spacingAndGlyphs">C57, 12-16<tspan font-weight="normal" stroke-width="0.3">w</tspan></text>
<text x="61.52" y="439" font-size="9.88" font-weight="bold" fill="#231f20" stroke="#231f20" stroke-width="0.15" textLength="65.46" lengthAdjust="spacingAndGlyphs">ScaKI, 12-16<tspan font-weight="normal" stroke-width="0.3">w</tspan></text>
<text x="61.39" y="450.6" font-size="9.88" font-weight="bold" fill="#231f20" stroke="#231f20" stroke-width="0.15" textLength="64.75" lengthAdjust="spacingAndGlyphs">C57, 12-13mo</text>
<text x="61.51" y="462.3" font-size="9.88" font-weight="bold" fill="#231f20" stroke="#231f20" stroke-width="0.15" textLength="73.88" lengthAdjust="spacingAndGlyphs">ScaKI, 12-13mo</text>
<text transform="translate(19.7,526.8) rotate(-90)" x="-0.65" y="0" font-size="10.47" font-weight="bold" fill="#231f20" stroke="#231f20" stroke-width="0.15" textLength="35.78" lengthAdjust="spacingAndGlyphs">Percent</text>
<text x="204.66" y="412.5" font-size="10.17" font-weight="normal" fill="#231f20" stroke="#231f20" stroke-width="0.45" textLength="7.0" lengthAdjust="spacingAndGlyphs">F</text>
<text x="218.25" y="412.5" font-size="10.61" font-weight="bold" fill="#231f20" stroke="#231f20" stroke-width="0.15" textLength="28.68" lengthAdjust="spacingAndGlyphs">Heart</text>
<text x="253.99" y="412.5" font-size="10.61" font-weight="bold" fill="#231f20" stroke="#231f20" stroke-width="0.15" textLength="140.75" lengthAdjust="spacingAndGlyphs">Weight/Body Weight Ratio</text>
<line x1="232.5" y1="428.75" x2="232.5" y2="592.5" stroke="#231f20" stroke-width="1"/>
<line x1="229.5" y1="592.5" x2="232.5" y2="592.5" stroke="#231f20" stroke-width="1"/>
<line x1="229.5" y1="559.5" x2="232.5" y2="559.5" stroke="#231f20" stroke-width="1"/>
<line x1="229.5" y1="527.5" x2="232.5" y2="527.5" stroke="#231f20" stroke-width="1"/>
<line x1="229.5" y1="494.5" x2="232.5" y2="494.5" stroke="#231f20" stroke-width="1"/>
<line x1="229.5" y1="461.5" x2="232.5" y2="461.5" stroke="#231f20" stroke-width="1"/>
<line x1="229.5" y1="428.5" x2="232.5" y2="428.5" stroke="#231f20" stroke-width="1"/>
<text x="224.7" y="595.0" font-size="7.27" font-weight="bold" fill="#231f20" stroke="#231f20" stroke-width="0.15" textLength="4.22" lengthAdjust="spacingAndGlyphs">0</text>
<text x="224.74" y="562.25" font-size="7.27" font-weight="bold" fill="#231f20" stroke="#231f20" stroke-width="0.15" textLength="4.16" lengthAdjust="spacingAndGlyphs">2</text>
<text x="224.9" y="529.5" font-size="7.27" font-weight="bold" fill="#231f20" stroke="#231f20" stroke-width="0.15" textLength="3.74" lengthAdjust="spacingAndGlyphs">4</text>
<text x="224.72" y="496.75" font-size="7.27" font-weight="bold" fill="#231f20" stroke="#231f20" stroke-width="0.15" textLength="4.15" lengthAdjust="spacingAndGlyphs">6</text>
<text x="224.77" y="464.0" font-size="7.27" font-weight="bold" fill="#231f20" stroke="#231f20" stroke-width="0.15" textLength="4.06" lengthAdjust="spacingAndGlyphs">8</text>
<text x="220.63" y="431.25" font-size="7.27" font-weight="bold" fill="#231f20" stroke="#231f20" stroke-width="0.15" textLength="8.28" lengthAdjust="spacingAndGlyphs">10</text>
<line x1="232.5" y1="592.5" x2="396.25" y2="592.5" stroke="#231f20" stroke-width="1"/>
<rect x="244.5" y="491.5" width="17.0" height="101.0" fill="#959597" stroke="#231f20" stroke-width="1"/>
<line x1="252.5" y1="491.25" x2="252.5" y2="489.3" stroke="#231f20" stroke-width="1"/>
<line x1="248.625" y1="489.5" x2="257.125" y2="489.5" stroke="#231f20" stroke-width="1"/>
<rect x="285.0" y="497.0" width="17.0" height="95.0" fill="#231f20"/>
<line x1="293.5" y1="497" x2="293.5" y2="492.5" stroke="#231f20" stroke-width="1"/>
<line x1="289.25" y1="492.5" x2="297.75" y2="492.5" stroke="#231f20" stroke-width="1"/>
<rect x="326.5" y="511.5" width="16.0" height="81.0" fill="#fff" stroke="#231f20" stroke-width="1"/>
<line x1="334.5" y1="511.25" x2="334.5" y2="501.25" stroke="#231f20" stroke-width="1"/>
<line x1="330.125" y1="501.5" x2="338.625" y2="501.5" stroke="#231f20" stroke-width="1"/>
<rect x="367.5" y="462.5" width="16.0" height="130.0" fill="url(#h4)" stroke="#231f20" stroke-width="1"/>
<line x1="375.5" y1="462" x2="375.5" y2="453" stroke="#231f20" stroke-width="1"/>
<line x1="371.125" y1="453.5" x2="379.625" y2="453.5" stroke="#231f20" stroke-width="1"/>
<text x="372.96" y="438.65" font-size="9.5" font-weight="normal" fill="#231f20" stroke="#231f20" stroke-width="0.45">#</text>
<rect x="252.5" y="423.5" width="8.0" height="8.0" fill="#959597" stroke="#231f20" stroke-width="1"/>
<rect x="252.0" y="436.0" width="9.0" height="9.0" fill="#231f20"/>
<rect x="252.5" y="448.5" width="8.0" height="8.0" fill="#fff" stroke="#231f20" stroke-width="1"/>
<rect x="252.5" y="461.5" width="8.0" height="8.0" fill="url(#h4)" stroke="#231f20" stroke-width="1"/>
<text x="266.59" y="431.5" font-size="10.03" font-weight="bold" fill="#231f20" stroke="#231f20" stroke-width="0.15" textLength="57.89" lengthAdjust="spacingAndGlyphs">C57, 12-16<tspan font-weight="normal" stroke-width="0.3">w</tspan></text>
<text x="266.71" y="443.75" font-size="10.03" font-weight="bold" fill="#231f20" stroke="#231f20" stroke-width="0.15" textLength="66.97" lengthAdjust="spacingAndGlyphs">ScaKI, 12-16<tspan font-weight="normal" stroke-width="0.3">w</tspan></text>
<text x="266.59" y="456.5" font-size="10.03" font-weight="bold" fill="#231f20" stroke="#231f20" stroke-width="0.15" textLength="67.5" lengthAdjust="spacingAndGlyphs">C57, 12-13 mo</text>
<text x="266.71" y="469" font-size="10.03" font-weight="bold" fill="#231f20" stroke="#231f20" stroke-width="0.15" textLength="77.38" lengthAdjust="spacingAndGlyphs">ScaKI, 12-13 mo</text>
<text transform="translate(215.2,539.4) rotate(-90)" x="-0.67" y="0" font-size="10.17" font-weight="bold" fill="#231f20" stroke="#231f20" stroke-width="0.15" textLength="60.66" lengthAdjust="spacingAndGlyphs">HW/BW ratio</text>
<text x="3.25" y="629.4" font-size="11.63" font-weight="normal" fill="#231f20" stroke="#231f20" stroke-width="0.45" textLength="10.12" lengthAdjust="spacingAndGlyphs">G</text>
<text x="31.47 41.6 48.25 54.7 60.57 66.08 69.25" y="629.3" font-size="10.2" font-weight="bold" fill="#231f20" stroke="#231f20" stroke-width="0.15">Myocyte</text>
<text x="82.26" y="629.3" font-size="10.17" font-weight="bold" fill="#231f20" stroke="#231f20" stroke-width="0.15" textLength="108.66" lengthAdjust="spacingAndGlyphs">Cross-Sectional Area</text>
<line x1="41.5" y1="645.7" x2="41.5" y2="803.5" stroke="#231f20" stroke-width="1"/>
<line x1="38" y1="803.5" x2="41" y2="803.5" stroke="#231f20" stroke-width="1"/>
<line x1="38" y1="750.5" x2="41" y2="750.5" stroke="#231f20" stroke-width="1"/>
<line x1="38" y1="698.5" x2="41" y2="698.5" stroke="#231f20" stroke-width="1"/>
<line x1="38" y1="645.5" x2="41" y2="645.5" stroke="#231f20" stroke-width="1"/>
<text x="33.92" y="806.0" font-size="7.27" font-weight="normal" fill="#231f20" stroke="#231f20" stroke-width="0.35" textLength="3.96" lengthAdjust="spacingAndGlyphs">0</text>
<text x="26.48" y="753.4" font-size="7.27" font-weight="normal" fill="#231f20" stroke="#231f20" stroke-width="0.35" textLength="11.39" lengthAdjust="spacingAndGlyphs">100</text>
<text x="26.66" y="700.8" font-size="7.27" font-weight="normal" fill="#231f20" stroke="#231f20" stroke-width="0.35" textLength="11.2" lengthAdjust="spacingAndGlyphs">200</text>
<text x="26.75" y="648.2" font-size="7.27" font-weight="normal" fill="#231f20" stroke="#231f20" stroke-width="0.35" textLength="11.12" lengthAdjust="spacingAndGlyphs">300</text>
<line x1="41" y1="803.5" x2="200" y2="803.5" stroke="#231f20" stroke-width="1"/>
<rect x="53.5" y="706.5" width="16.0" height="97.0" fill="#7e8084" stroke="#231f20" stroke-width="1"/>
<line x1="61.5" y1="706.75" x2="61.5" y2="704.25" stroke="#231f20" stroke-width="1"/>
<line x1="57.5" y1="704.5" x2="65.5" y2="704.5" stroke="#231f20" stroke-width="1"/>
<line x1="61.5" y1="706.75" x2="61.5" y2="709.25" stroke="#231f20" stroke-width="1"/>
<line x1="57.5" y1="709.5" x2="65.5" y2="709.5" stroke="#231f20" stroke-width="1"/>
<rect x="93.0" y="689.0" width="16.0" height="115.0" fill="#231f20"/>
<line x1="100.5" y1="689.25" x2="100.5" y2="686.75" stroke="#231f20" stroke-width="1"/>
<line x1="96.875" y1="686.5" x2="104.875" y2="686.5" stroke="#231f20" stroke-width="1"/>
<rect x="132.5" y="699.5" width="16.0" height="104.0" fill="#fff" stroke="#231f20" stroke-width="1"/>
<line x1="140.5" y1="699.2" x2="140.5" y2="698.2" stroke="#231f20" stroke-width="1"/>
<line x1="136.625" y1="698.5" x2="144.625" y2="698.5" stroke="#231f20" stroke-width="1"/>
<line x1="140.5" y1="699.2" x2="140.5" y2="701.2" stroke="#231f20" stroke-width="1"/>
<line x1="136.625" y1="701.5" x2="144.625" y2="701.5" stroke="#231f20" stroke-width="1"/>
<rect x="171.5" y="675.5" width="17.0" height="128.0" fill="url(#h3)" stroke="#231f20" stroke-width="1"/>
<line x1="179.5" y1="675" x2="179.5" y2="668" stroke="#231f20" stroke-width="1"/>
<line x1="175.875" y1="668.5" x2="183.875" y2="668.5" stroke="#231f20" stroke-width="1"/>
<line x1="179.5" y1="675" x2="179.5" y2="682" stroke="#231f20" stroke-width="1"/>
<line x1="175.875" y1="682.5" x2="183.875" y2="682.5" stroke="#231f20" stroke-width="1"/>
<text x="98.45" y="684.85" font-size="9.2" font-weight="normal" fill="#231f20" stroke="#231f20" stroke-width="0.45">#</text>
<text x="177.57" y="663.41" font-size="12.5" font-weight="normal" fill="#231f20" stroke="#231f20" stroke-width="0.35">*</text>
<rect x="56.5" y="635.5" width="8.0" height="8.0" fill="#8c9090" stroke="#231f20" stroke-width="1"/>
<rect x="56.0" y="646.0" width="9.0" height="8.0" fill="#231f20"/>
<rect x="56.5" y="657.5" width="8.0" height="7.0" fill="#fff" stroke="#231f20" stroke-width="1"/>
<rect x="56.5" y="668.5" width="8.0" height="7.0" fill="url(#h4)" stroke="#231f20" stroke-width="1"/>
<text x="69.81" y="643.1" font-size="9.45" font-weight="bold" fill="#231f20" stroke="#231f20" stroke-width="0.15" textLength="54.92" lengthAdjust="spacingAndGlyphs">C57, 12-16<tspan font-weight="normal" stroke-width="0.3">w</tspan></text>
<text x="69.92" y="653.75" font-size="9.45" font-weight="bold" fill="#231f20" stroke="#231f20" stroke-width="0.15" textLength="64.05" lengthAdjust="spacingAndGlyphs">ScaKI, 12-16<tspan font-weight="normal" stroke-width="0.3">w</tspan></text>
<text x="69.81" y="664.4" font-size="9.45" font-weight="bold" fill="#231f20" stroke="#231f20" stroke-width="0.15" textLength="61.56" lengthAdjust="spacingAndGlyphs">C57, 12-14mo</text>
<text x="69.92" y="674.75" font-size="9.45" font-weight="bold" fill="#231f20" stroke="#231f20" stroke-width="0.15" textLength="71.05" lengthAdjust="spacingAndGlyphs">ScaKI, 12-14mo</text>
<text transform="translate(20.6,806) rotate(-90)" x="0" y="0" font-size="9.8" font-weight="bold" fill="#231f20" textLength="166.5" lengthAdjust="spacingAndGlyphs">Myocyte Cross-sectional Area ( <tspan font-weight="normal">&#956;m</tspan><tspan font-size="6" dy="-4">2</tspan><tspan dy="4">)</tspan></text>
</svg>
</body></html>
